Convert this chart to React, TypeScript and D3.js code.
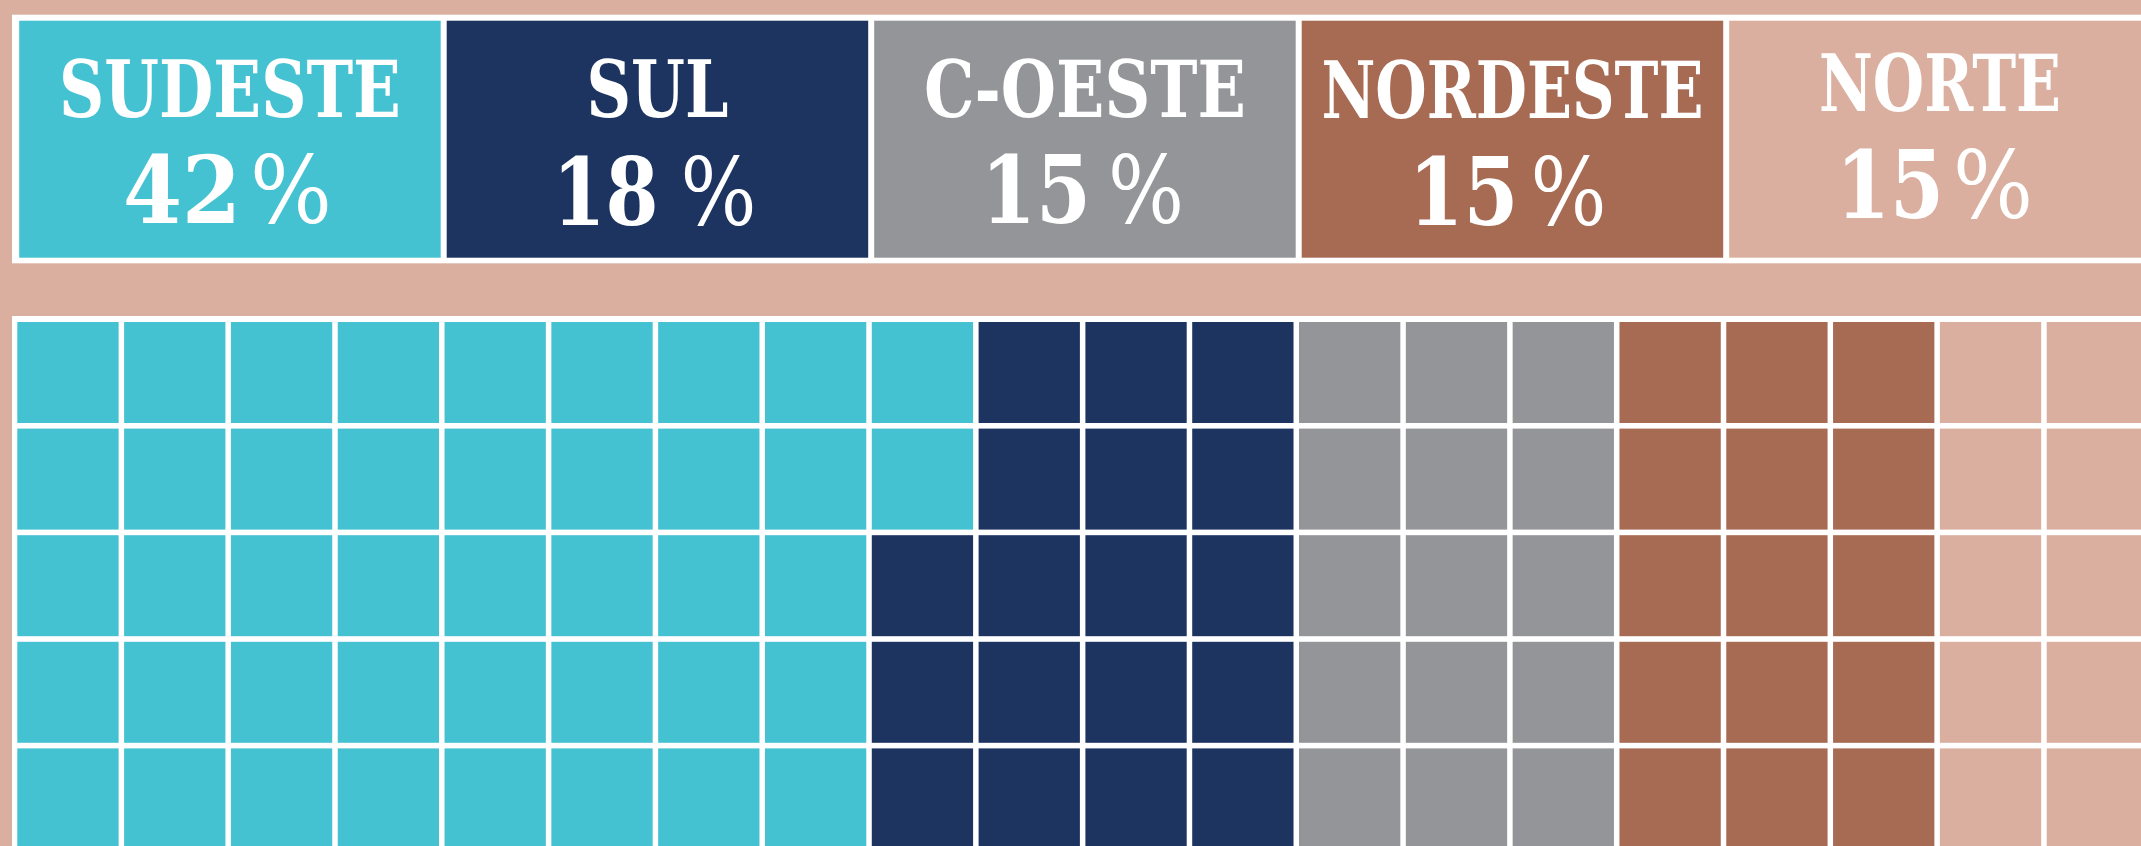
import React, { useEffect } from "react";
import * as d3 from "d3";

// ---- data ----
const regions = ["SUDESTE", "SUL", "C-OESTE", "NORDESTE", "NORTE"];
const shares = [42, 18, 15, 15, 15];
const shareNumbers = ["42", "18", "15", "15", "15"];
const regionColors = ["#45C2D1", "#1D3461", "#949599", "#A76A53", "#DAAF9F"];
const waffleRows = 5;

// ---- layout (measured from reference) ----
const W = 2141;
const H = 846;
const BG = "#DAAF9F";
const labelTextLength = [342, 142, 322, 382, 242];
const labelBaseline = [117, 117, 117, 118, 111];
const pctBaseline = [223, 225, 223, 225, 218];
const digitOffset = [-48, -52, -49, -49, -50];
const digitLength = [118, 106, 110, 110, 108];
const percentOffset = [61, 61, 61, 56, 53];
const percentLength = [82, 76, 76, 76, 80];

export default function App() {
  useEffect(() => {
    document.body.style.margin = "0";
    document.body.style.overflow = "hidden";
    document.body.style.background = BG;
  }, []);

  // header boxes
  const headStep = 427.5;
  const headX = d3
    .scaleBand<string>()
    .domain(regions)
    .range([16.2, 16.2 + regions.length * headStep])
    .paddingInner(6 / headStep)
    .paddingOuter(3 / headStep);

  // waffle cells: column-major fill
  const cells: { region: number; col: number; row: number }[] = [];
  let idx = 0;
  shares.forEach((s, r) => {
    for (let k = 0; k < s; k++) {
      cells.push({ region: r, col: Math.floor(idx / waffleRows), row: idx % waffleRows });
      idx++;
    }
  });
  const nCols = Math.ceil(idx / waffleRows);
  const colStep = 106.81;
  const colGap = 5.5;
  const x = d3
    .scaleBand<number>()
    .domain(d3.range(nCols))
    .range([17.3 - colGap / 2, 17.3 - colGap / 2 + nCols * colStep])
    .paddingInner(colGap / colStep)
    .paddingOuter(colGap / colStep / 2);
  const rowStep = 106.6;
  const rowGap = 5.6;
  const y = d3
    .scaleBand<number>()
    .domain(d3.range(waffleRows))
    .range([322 - rowGap / 2, 322 - rowGap / 2 + waffleRows * rowStep])
    .paddingInner(rowGap / rowStep)
    .paddingOuter(rowGap / rowStep / 2);

  const font = "'DejaVu Serif', 'Liberation Serif', serif";

  return (
    <svg
      width={W}
      height={H}
      style={{ position: "absolute", left: 0, top: 0, display: "block" }}
    >
      <rect x={0} y={0} width={W} height={H} fill={BG} />

      {/* header */}
      <rect x={12} y={14.7} width={W} height={248.6} fill="#ffffff" />
      {regions.map((r, i) => {
        const bx = headX(r)!;
        const bw = headX.bandwidth();
        const cx = bx + bw / 2;
        return (
          <g key={r}>
            <rect x={bx} y={20.7} width={bw} height={237} fill={regionColors[i]} />
            <text
              x={cx}
              y={labelBaseline[i]}
              textAnchor="middle"
              fill="#ffffff"
              fontFamily={font}
              fontWeight="bold"
              fontSize={78}
              textLength={labelTextLength[i]}
              lengthAdjust="spacingAndGlyphs"
            >
              {r}
            </text>
            <text
              x={cx + digitOffset[i]}
              y={pctBaseline[i]}
              textAnchor="middle"
              fill="#ffffff"
              fontFamily={font}
              fontWeight="bold"
              fontSize={93}
              textLength={digitLength[i]}
              lengthAdjust="spacingAndGlyphs"
            >
              {shareNumbers[i]}
            </text>
            <text
              x={cx + percentOffset[i]}
              y={pctBaseline[i]}
              textAnchor="middle"
              fill="#ffffff"
              fontFamily={font}
              fontWeight="normal"
              fontSize={93}
              textLength={percentLength[i]}
              lengthAdjust="spacingAndGlyphs"
            >
              %
            </text>
          </g>
        );
      })}

      {/* waffle */}
      <rect x={12} y={316} width={W} height={H} fill="#ffffff" />
      {cells.map((c, i) => (
        <rect
          key={i}
          x={x(c.col)!}
          y={y(c.row)!}
          width={x.bandwidth()}
          height={y.bandwidth()}
          fill={regionColors[c.region]}
        />
      ))}
    </svg>
  );
}
